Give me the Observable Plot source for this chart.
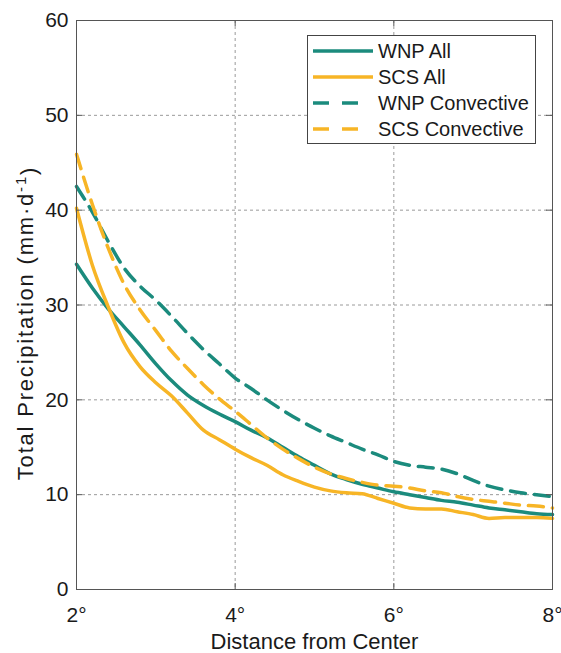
<!DOCTYPE html>
<html><head><meta charset="utf-8">
<script src="https://cdn.jsdelivr.net/npm/d3@7"></script>
<script src="https://cdn.jsdelivr.net/npm/@observablehq/plot@0.6"></script>
<style>
body{margin:0;background:#fff;font-family:"Liberation Sans",Arial,sans-serif;}
#wrap{position:relative;width:561px;height:653px;}
#legend{position:absolute;left:307px;top:35px;width:229px;height:109px;border:1px solid #444;background:#fff;box-sizing:border-box;}
</style></head><body><div id="wrap"></div>
<script>
const distance = [2.0,2.2,2.4,2.6,2.8,3.0,3.2,3.4,3.6,3.8,4.0,4.2,4.4,4.6,4.8,5.0,5.2,5.4,5.6,5.8,6.0,6.2,6.4,6.6,6.8,7.0,7.2,7.4,7.6,7.8,8.0];
const wnpAll = [34.3,31.8,29.6,27.7,25.8,23.8,22.0,20.5,19.4,18.5,17.7,16.8,16.0,15.0,14.0,13.1,12.2,11.6,11.1,10.7,10.3,10.0,9.7,9.4,9.2,8.9,8.6,8.4,8.2,8.0,7.9];
const scsAll = [40.2,34.2,29.8,26.0,23.5,21.8,20.4,18.6,16.8,15.8,14.8,13.9,13.1,12.1,11.4,10.8,10.4,10.2,10.1,9.6,9.1,8.6,8.5,8.5,8.2,7.9,7.5,7.6,7.6,7.6,7.5];
const wnpConv = [42.5,39.8,36.7,33.9,32.0,30.5,28.8,27.0,25.3,23.8,22.3,21.2,20.0,18.9,17.9,17.0,16.2,15.5,14.8,14.2,13.5,13.1,12.9,12.7,12.2,11.5,10.9,10.5,10.2,10.0,9.8];
const scsConv = [45.9,40.6,36.0,32.2,29.5,27.3,25.1,23.3,21.6,20.1,18.8,17.4,16.0,14.8,13.8,12.9,12.2,11.7,11.3,11.0,10.9,10.7,10.4,10.2,9.8,9.5,9.3,9.1,8.9,8.8,8.6];
const seriesNames = ["WNP All","SCS All","WNP Convective","SCS Convective"];
const xTicks = [2,4,6,8];
const yTicks = [0,10,20,30,40,50,60];
const xLabel = "Distance from Center";
const yLabel = "Total Precipitation (mm·d-1)";

const TEAL = "#1b8b7d", GOLD = "#f7b526";
const styles = [
  {color: TEAL, dash: null},
  {color: GOLD, dash: null},
  {color: TEAL, dash: "15,9"},
  {color: GOLD, dash: "15,9"}
];
const valuesBySeries = [wnpAll, scsAll, wnpConv, scsConv];
const rows = valuesBySeries.map((vals, k) => distance.map((d, i) => ({x: d, y: vals[i], name: seriesNames[k]})));

const W = 561, H = 653, mL = 76, mR = 9, mT = 20, mB = 64;
const iw = W - mL - mR, ih = H - mT - mB;
const innerX = xTicks.slice(1, -1), innerY = yTicks.slice(1, -1);

const chart = Plot.plot({
  width: W, height: H,
  marginLeft: mL, marginRight: mR, marginTop: mT, marginBottom: mB,
  style: {fontSize: "21px", fontFamily: "'Liberation Sans', Arial, sans-serif", color: "#1a1a1a", background: "#fff", overflow: "visible"},
  x: {domain: [2, 8]},
  y: {domain: [0, 60]},
  marks: [
    Plot.gridX(innerX, {stroke: "#9a9a9a", strokeOpacity: 1, strokeDasharray: "3,3"}),
    Plot.gridY(innerY, {stroke: "#9a9a9a", strokeOpacity: 1, strokeDasharray: "3,3"}),
    ...rows.map((r, k) => Plot.line(r, {x: "x", y: "y", stroke: styles[k].color, strokeWidth: 3.5, strokeDasharray: styles[k].dash, curve: "monotone-x"})),
    Plot.tickY(innerY, {y: d => d, insetRight: iw - 6, stroke: "#555"}),
    Plot.tickY(innerY, {y: d => d, insetLeft: iw - 6, stroke: "#555"}),
    Plot.tickX(innerX, {x: d => d, insetTop: ih - 6, stroke: "#555"}),
    Plot.tickX(innerX, {x: d => d, insetBottom: ih - 6, stroke: "#555"}),
    Plot.frame({stroke: "#555"}),
    Plot.axisY(yTicks, {tickSize: 0, tickPadding: 8, label: null}),
    Plot.axisX(xTicks, {tickSize: 0, tickPadding: 18, tickFormat: d => d + "°", label: null}),
    Plot.text([xLabel], {text: d => d, frameAnchor: "bottom", textAnchor: "middle", dy: 59, fontSize: 22}),
    Plot.text([yLabel], {text: d => d, frameAnchor: "left", textAnchor: "middle", dx: -51, dy: 18, rotate: -90, fontSize: 22})
  ]
});
// superscript for the unit
d3.select(chart).selectAll("text").each(function() {
  if (this.textContent === yLabel) {
    const t = d3.select(this);
    t.text(null);
    t.attr("letter-spacing", "1.8px");
    t.append("tspan").text("Total Precipitation (mm·d");
    t.append("tspan").attr("dy", "-0.45em").attr("font-size", "15px").text("-1");
    t.append("tspan").attr("dy", "0.45em").text(")");
  }
});
const wrap = document.getElementById("wrap");
wrap.appendChild(chart);

// legend
const lg = document.createElement("div");
lg.id = "legend";
const ns = "http://www.w3.org/2000/svg";
const svg = document.createElementNS(ns, "svg");
svg.setAttribute("width", 227); svg.setAttribute("height", 107);
seriesNames.forEach((name, k) => {
  const cy = 15 + k * 26;
  const line = document.createElementNS(ns, "line");
  line.setAttribute("x1", 5); line.setAttribute("x2", styles[k].dash ? 52 : 65);
  line.setAttribute("y1", cy); line.setAttribute("y2", cy);
  line.setAttribute("stroke", styles[k].color); line.setAttribute("stroke-width", 3.5);
  if (styles[k].dash) line.setAttribute("stroke-dasharray", "16,13");
  svg.appendChild(line);
  const tx = document.createElementNS(ns, "text");
  tx.setAttribute("x", 70); tx.setAttribute("y", cy); tx.setAttribute("dy", "0.35em");
  tx.setAttribute("font-size", 20); tx.setAttribute("fill", "#1a1a1a");
  tx.setAttribute("font-family", "'Liberation Sans', Arial, sans-serif");
  tx.textContent = name;
  svg.appendChild(tx);
});
lg.appendChild(svg);
wrap.appendChild(lg);
</script></body></html>
